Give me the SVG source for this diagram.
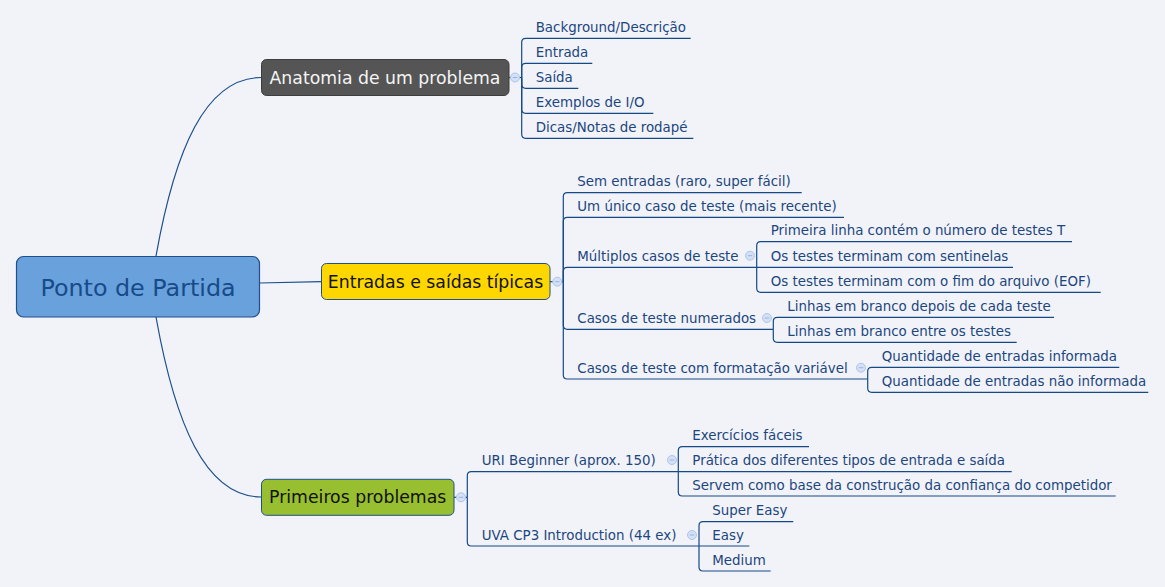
<svg xmlns="http://www.w3.org/2000/svg" width="1165" height="587" viewBox="0 0 1165 587">
<style>
.bg{fill:#f2f3f9}
.ln{fill:none;stroke:#164a87;stroke-width:1.2}
.mn{fill:none;stroke:#1a4f8c;stroke-width:1.2}
.t{font-family:"DejaVu Sans","Verdana",sans-serif;font-size:13.4px;fill:#1b467e}
.nt{font-family:"DejaVu Sans","Verdana",sans-serif;font-size:17.3px;text-anchor:middle}
.cc{fill:#d3e0f5;stroke:#aec5ea;stroke-width:1}
.cm{stroke:#9bb3dc;stroke-width:1}
</style>
<defs>
<g id="col"><circle class="cc" r="4.5"/><line class="cm" x1="-2.2" y1="0" x2="2.2" y2="0"/></g>
</defs>
<rect class="bg" x="0" y="0" width="1165" height="587"/>

<g id="connectors">
<path class="mn" d="M156,256 C175,150 205,77.5 261.5,77.5"/>
<path class="mn" d="M156,317 C175,423 205,497 261.5,497"/>
<path class="mn" d="M259.5,283 L321.5,281.7"/>
<!-- Anatomia -->
<path class="ln" d="M509,77.5 H521.7"/>
<path class="ln" d="M521.7,77.5 V42.3 Q521.7,38.3 525.7,38.3 H690.7"/>
<path class="ln" d="M521.7,77.5 V67.3 Q521.7,63.3 525.7,63.3 H592.3"/>
<path class="ln" d="M521.7,77.5 V84.3 Q521.7,88.3 525.7,88.3 H578.3"/>
<path class="ln" d="M521.7,77.5 V109.3 Q521.7,113.3 525.7,113.3 H653.3"/>
<path class="ln" d="M521.7,77.5 V134.3 Q521.7,138.3 525.7,138.3 H693.3"/>
<!-- Entradas -->
<path class="ln" d="M550,281.7 H563.3"/>
<path class="ln" d="M563.3,281.7 V196.7 Q563.3,192.7 567.3,192.7 H801.7"/>
<path class="ln" d="M563.3,281.7 V221.3 Q563.3,217.3 567.3,217.3 H844"/>
<path class="ln" d="M563.3,281.7 V271.3 Q563.3,267.3 567.3,267.3 H756.7"/>
<path class="ln" d="M563.3,281.7 V325.3 Q563.3,329.3 567.3,329.3 H773.3"/>
<path class="ln" d="M563.3,281.7 V375 Q563.3,379 567.3,379 H867.7"/>
<!-- Multiplos -->
<path class="ln" d="M756.7,267.3 V245.7 Q756.7,241.7 760.7,241.7 H1072"/>
<path class="ln" d="M756.7,267.3 H1013"/>
<path class="ln" d="M756.7,267.3 V288.3 Q756.7,292.3 760.7,292.3 H1100.7"/>
<!-- Numerados -->
<path class="ln" d="M773.3,329.3 V321.3 Q773.3,317.3 777.3,317.3 H1054"/>
<path class="ln" d="M773.3,329.3 V338.3 Q773.3,342.3 777.3,342.3 H1016.7"/>
<!-- Formatacao -->
<path class="ln" d="M867.7,379 V371.3 Q867.7,367.3 871.7,367.3 H1119.3"/>
<path class="ln" d="M867.7,379 V388.3 Q867.7,392.3 871.7,392.3 H1148.3"/>
<!-- Primeiros -->
<path class="ln" d="M454,497.3 H467.3"/>
<path class="ln" d="M467.3,497.3 V475.7 Q467.3,471.7 471.3,471.7 H678.3"/>
<path class="ln" d="M467.3,497.3 V542 Q467.3,546 471.3,546 H699"/>
<!-- URI -->
<path class="ln" d="M678.3,471.7 V450.7 Q678.3,446.7 682.3,446.7 H809"/>
<path class="ln" d="M678.3,471.7 H1011.7"/>
<path class="ln" d="M678.3,471.7 V492 Q678.3,496 682.3,496 H1115.7"/>
<!-- UVA -->
<path class="ln" d="M699,546 V525.7 Q699,521.7 703,521.7 H793.3"/>
<path class="ln" d="M699,546 H749.3"/>
<path class="ln" d="M699,546 V567 Q699,571 703,571 H770.7"/>
</g>

<g id="central">
<rect x="16.5" y="256.5" width="243" height="60.5" rx="7" fill="#69a1dd" stroke="#1f4f8d" stroke-width="1.2"/>
<text x="138" y="295.5" style="font-family:'DejaVu Sans','Verdana',sans-serif;font-size:23.8px;fill:#174b88;text-anchor:middle">Ponto de Partida</text>
</g>

<g id="anatomia">
<rect x="261.5" y="59.5" width="247.5" height="36" rx="5" fill="#555555" stroke="#3d3d3d" stroke-width="1"/>
<text class="nt" x="385" y="84" fill="#f4f4f4">Anatomia de um problema</text>
<use href="#col" x="515" y="77.5"/>
</g>

<g id="entradas">
<rect x="321.5" y="263.5" width="228.5" height="36" rx="5" fill="#ffd700" stroke="#1f4f8d" stroke-width="1"/>
<text class="nt" x="435.5" y="287.7" fill="#111">Entradas e saídas típicas</text>
<use href="#col" x="557.3" y="281.7"/>
</g>

<g id="primeiros">
<rect x="261.5" y="479.3" width="192.5" height="36" rx="5" fill="#98bf30" stroke="#1f4f8d" stroke-width="1"/>
<text class="nt" x="357.7" y="503.3" fill="#111">Primeiros problemas</text>
<use href="#col" x="461" y="497.3"/>
</g>

<g id="anatomia-children">
<text class="t" x="535.7" y="31.8">Background/Descrição</text>
<text class="t" x="535.7" y="56.8">Entrada</text>
<text class="t" x="535.7" y="81.8">Saída</text>
<text class="t" x="535.7" y="106.8">Exemplos de I/O</text>
<text class="t" x="535.7" y="131.8">Dicas/Notas de rodapé</text>
</g>

<g id="entradas-children">
<text class="t" x="577.3" y="186.2">Sem entradas (raro, super fácil)</text>
<text class="t" x="577.3" y="210.8">Um único caso de teste (mais recente)</text>
<g id="multiplos">
<text class="t" x="577.3" y="260.8">Múltiplos casos de teste</text>
<use href="#col" x="750" y="255.7"/>
</g>
<g id="numerados">
<text class="t" x="577.3" y="322.8">Casos de teste numerados</text>
<use href="#col" x="767" y="318"/>
</g>
<g id="formatacao">
<text class="t" x="577.3" y="372.5">Casos de teste com formatação variável</text>
<use href="#col" x="861" y="367.7"/>
</g>
</g>

<g id="multiplos-children">
<text class="t" x="770.7" y="235.2">Primeira linha contém o número de testes T</text>
<text class="t" x="770.7" y="260.8">Os testes terminam com sentinelas</text>
<text class="t" x="770.7" y="285.8">Os testes terminam com o fim do arquivo (EOF)</text>
</g>
<g id="numerados-children">
<text class="t" x="787.3" y="310.8">Linhas em branco depois de cada teste</text>
<text class="t" x="787.3" y="335.8">Linhas em branco entre os testes</text>
</g>
<g id="formatacao-children">
<text class="t" x="881.7" y="360.8">Quantidade de entradas informada</text>
<text class="t" x="881.7" y="385.8">Quantidade de entradas não informada</text>
</g>

<g id="primeiros-children">
<g id="uri">
<text class="t" x="481.7" y="465.2">URI Beginner (aprox. 150)</text>
<use href="#col" x="672" y="460"/>
</g>
<g id="uva">
<text class="t" x="481.7" y="539.5">UVA CP3 Introduction (44 ex)</text>
<use href="#col" x="692" y="535"/>
</g>
</g>
<g id="uri-children">
<text class="t" x="692.3" y="440.2">Exercícios fáceis</text>
<text class="t" x="692.3" y="465.2">Prática dos diferentes tipos de entrada e saída</text>
<text class="t" x="692.3" y="489.5">Servem como base da construção da confiança do competidor</text>
</g>
<g id="uva-children">
<text class="t" x="712.3" y="515.2">Super Easy</text>
<text class="t" x="712.3" y="540.2">Easy</text>
<text class="t" x="712.3" y="564.5">Medium</text>
</g>
</svg>
